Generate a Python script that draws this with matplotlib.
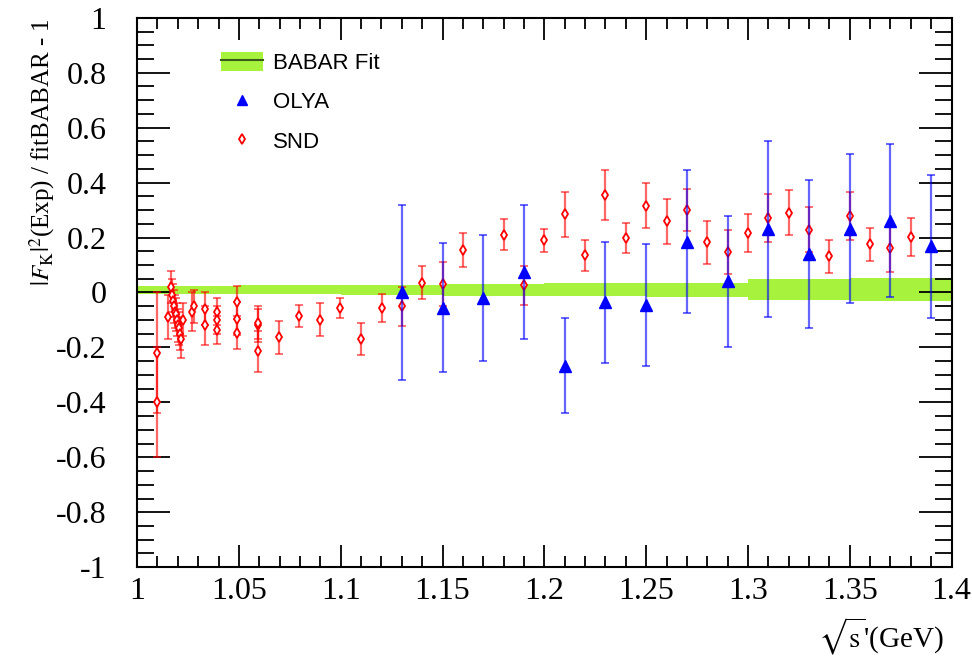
import numpy as np
import matplotlib
matplotlib.use("Agg")
import matplotlib.pyplot as plt
from matplotlib.patches import Patch
from matplotlib.lines import Line2D

# SND points (red open diamonds)
snd_x = [1.0097, 1.0097, 1.0154, 1.0165, 1.0170, 1.0175, 1.0180, 1.0185, 1.0190,
         1.0195, 1.0200, 1.0205, 1.0210, 1.0215, 1.0227, 1.0268, 1.0278,
         1.0334, 1.0334, 1.0393, 1.0393, 1.0393, 1.0492, 1.0492, 1.0492,
         1.0592, 1.0595, 1.0592, 1.0698, 1.0797, 1.0898, 1.0996, 1.1098, 1.1201,
         1.13, 1.14, 1.15, 1.16, 1.18, 1.19, 1.20, 1.21, 1.22, 1.23, 1.24, 1.25,
         1.26, 1.27, 1.28, 1.29, 1.30, 1.31, 1.32, 1.33, 1.34, 1.35, 1.36, 1.37, 1.38]
snd_y = [-0.22, -0.40, -0.09, 0.02, -0.01, -0.03, -0.05, -0.07, -0.08,
         -0.10, -0.12, -0.13, -0.15, -0.17, -0.10, -0.07, -0.05,
         -0.06, -0.12, -0.07, -0.10, -0.136, -0.035, -0.096, -0.147,
         -0.12, -0.11, -0.214, -0.163, -0.084, -0.10, -0.056, -0.17, -0.056,
         -0.051, 0.035, 0.032, 0.153, 0.21, 0.026, 0.19, 0.285, 0.135, 0.355, 0.198, 0.315,
         0.259, 0.30, 0.183, 0.147, 0.217, 0.272, 0.29, 0.228, 0.131, 0.278, 0.175, 0.163, 0.201]
snd_err = [0.22, 0.20, 0.08, 0.06, 0.06, 0.06, 0.06, 0.06, 0.06,
           0.06, 0.06, 0.06, 0.06, 0.07, 0.06, 0.07, 0.06,
           0.06, 0.07, 0.05, 0.05, 0.05, 0.06, 0.06, 0.06,
           0.06, 0.06, 0.075, 0.06, 0.04, 0.06, 0.036, 0.058, 0.05,
           0.07, 0.06, 0.08, 0.062, 0.056, 0.072, 0.042, 0.082, 0.055, 0.092, 0.056, 0.082,
           0.082, 0.075, 0.078, 0.08, 0.07, 0.087, 0.082, 0.082, 0.06, 0.088, 0.06, 0.088, 0.07]

# OLYA points (blue triangles)
olya_x = [1.13, 1.15, 1.17, 1.19, 1.21, 1.23, 1.25, 1.27, 1.29, 1.31, 1.33, 1.35, 1.37, 1.39]
olya_y = [0.0, -0.055, -0.02, 0.075, -0.266, -0.035, -0.044, 0.185, 0.04, 0.232, 0.141, 0.232, 0.262, 0.168]
olya_err = [0.32, 0.235, 0.23, 0.243, 0.174, 0.22, 0.222, 0.26, 0.24, 0.32, 0.27, 0.272, 0.278, 0.26]

# BABAR fit uncertainty band (relative to the fit itself)
band_x = [1.00, 1.05, 1.10, 1.15, 1.20, 1.25, 1.30, 1.35, 1.40]
band_lo = [-0.005, -0.006, -0.008, -0.012, -0.014, -0.016, -0.026, -0.030, -0.032]
band_hi = [0.025, 0.027, 0.029, 0.031, 0.033, 0.035, 0.050, 0.053, 0.056]

plt.rcParams["mathtext.fontset"] = "stix"
serif = "Liberation Serif"
green = "#a6f23c"

fig = plt.figure(figsize=(9.72, 6.58), dpi=100)
ax = fig.add_axes([0.141, 0.138, 0.838, 0.835])

ax.fill_between(band_x, band_lo, band_hi, step="post", color=green, lw=0, zorder=1)

ax.errorbar(snd_x, snd_y, yerr=snd_err, fmt="d", ms=5.5, mfc="white", mec="red",
            mew=1.3, ecolor=(1, 0, 0, 0.6), elinewidth=1.6, capsize=3, capthick=1.4,
            zorder=3)
ax.errorbar(olya_x, olya_y, yerr=olya_err, fmt="^", ms=8, color="blue",
            ecolor=(0, 0, 1, 0.6), elinewidth=1.6, capsize=3, capthick=1.4, zorder=4)

ax.set_xlim(1.0, 1.4)
ax.set_ylim(-1, 1)
ax.set_xticks(np.arange(1.0, 1.401, 0.05))
ax.set_xticks(np.arange(1.0, 1.401, 0.01), minor=True)
ax.set_yticks(np.arange(-1, 1.01, 0.2))
ax.set_yticks(np.arange(-1, 1.01, 0.05), minor=True)
ax.set_xticklabels(["1", "1.05", "1.1", "1.15", "1.2", "1.25", "1.3", "1.35", "1.4"])
ax.set_yticklabels(["-1", "-0.8", "-0.6", "-0.4", "-0.2", "0", "0.2", "0.4", "0.6", "0.8", "1"])
ax.tick_params(axis="both", which="both", direction="in", top=True, right=True,
               labelsize=23, width=1.3)
ax.tick_params(axis="y", which="major", length=24, pad=22)
ax.tick_params(axis="y", which="minor", length=12)
ax.tick_params(axis="x", which="major", length=16, pad=7)
ax.tick_params(axis="x", which="minor", length=8)
for lab in ax.get_xticklabels() + ax.get_yticklabels():
    lab.set_family(serif)
for sp in ax.spines.values():
    sp.set_linewidth(1.5)

ax.set_ylabel(r"$|F_{\rm K}|^2$(Exp) / fitBABAR - 1", family=serif, fontsize=18,
              loc="top")
ax.yaxis.set_label_coords(-0.098, 1.0)
ax.set_xlabel(r"$\sqrt{\rm s}$'(GeV)", family=serif, fontsize=21, loc="right")
ax.xaxis.set_label_coords(0.991, -0.088)

handles = [
    (Patch(facecolor=green, edgecolor="none"), Line2D([], [], color="#3a5a1a", lw=1.5)),
    Line2D([], [], ls="none", marker="^", ms=7, color="blue"),
    Line2D([], [], ls="none", marker="d", ms=5, mfc="white", mec="red", mew=1.3),
]
ax.legend(handles, ["BABAR Fit", "OLYA", "SND"], loc="upper left",
          bbox_to_anchor=(0.078, 0.975), frameon=False, handlelength=1.9,
          handleheight=1.0, handletextpad=0.45, labelspacing=0.75,
          prop={"family": "Liberation Sans", "size": 16})

fig.savefig("out.png", dpi=100)
